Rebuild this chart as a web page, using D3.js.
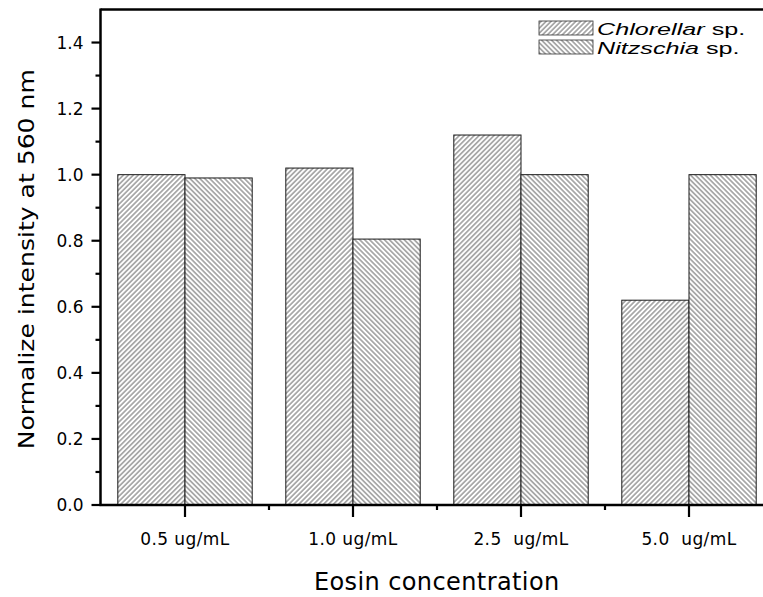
<!DOCTYPE html>
<html>
<head>
<meta charset="utf-8">
<script src="https://cdn.jsdelivr.net/npm/d3@7"></script>
<style>
  html, body { margin: 0; padding: 0; background: #fff; }
  svg { display: block; }
  text { font-family: "DejaVu Sans", Tahoma, sans-serif; fill: #000; }
</style>
</head>
<body>
<svg id="chart" width="763" height="597"></svg>
<script>
// Eosin concentrations on the x axis
const categories = ["0.5 ug/mL", "1.0 ug/mL", "2.5  ug/mL", "5.0  ug/mL"];
// Normalized intensity at 560 nm for each species
const chlorella = [1.00, 1.02, 1.12, 0.62];
const nitzschia = [0.99, 0.805, 1.00, 1.00];
const seriesNames = ["Chlorellar", "Nitzschia"];
const yTicks = [0.0, 0.2, 0.4, 0.6, 0.8, 1.0, 1.2, 1.4];
const yMinorTicks = [0.1, 0.3, 0.5, 0.7, 0.9, 1.1, 1.3];

const svg = d3.select("#chart");
const plotLeft = 100.5, plotRight = 773, plotTop = 9.5, plotBottom = 505;

const x = d3.scaleBand().domain(categories).range([101, plotRight])
  .paddingInner(0.2).paddingOuter(0.1);
const xSub = d3.scaleBand().domain(seriesNames).range([0, x.bandwidth()]);
const y = d3.scaleLinear().domain([0, 1.5]).range([plotBottom, plotTop]);

// hatch patterns: "/" for Chlorella, "\" for Nitzschia
const defs = svg.append("defs");
function hatch(id, angle, gap, sw) {
  const p = defs.append("pattern")
    .attr("id", id)
    .attr("patternUnits", "userSpaceOnUse")
    .attr("width", gap).attr("height", 10)
    .attr("patternTransform", `rotate(${angle})`);
  p.append("rect").attr("width", gap).attr("height", 10).attr("fill", "#fff");
  p.append("line")
    .attr("x1", gap / 2).attr("x2", gap / 2)
    .attr("y1", 0).attr("y2", 10)
    .attr("stroke", "#333").attr("stroke-width", sw);
}
hatch("hatchC", 45, 3.5, 0.8);
hatch("hatchN", -45, 3.5, 0.8);

const fills = { Chlorellar: "url(#hatchC)", Nitzschia: "url(#hatchN)" };
const rows = categories.map((c, i) => ({ cat: c, Chlorellar: chlorella[i], Nitzschia: nitzschia[i] }));

// bars
const groups = svg.append("g").selectAll("g").data(rows).join("g")
  .attr("transform", d => `translate(${x(d.cat)},0)`);
groups.selectAll("rect")
  .data(d => seriesNames.map(k => ({ key: k, value: d[k] })))
  .join("rect")
  .attr("x", d => xSub(d.key))
  .attr("width", xSub.bandwidth())
  .attr("y", d => y(d.value))
  .attr("height", d => y(0) - y(d.value))
  .attr("fill", d => fills[d.key])
  .attr("stroke", "#1a1a1a")
  .attr("stroke-width", 1);

// frame: top and right borders
svg.append("line").attr("x1", plotLeft).attr("x2", plotRight).attr("y1", plotTop).attr("y2", plotTop)
  .attr("stroke", "#000").attr("stroke-width", 2.5);
svg.append("line").attr("x1", plotRight).attr("x2", plotRight).attr("y1", plotTop).attr("y2", plotBottom)
  .attr("stroke", "#000").attr("stroke-width", 2.5);

// y axis
const yAxis = svg.append("g").attr("transform", `translate(${plotLeft},0)`);
yAxis.append("line").attr("x1", 0).attr("x2", 0).attr("y1", plotTop - 1).attr("y2", plotBottom + 1)
  .attr("stroke", "#000").attr("stroke-width", 2.5);
yAxis.selectAll(".maj").data(yTicks).join("line")
  .attr("x1", -9).attr("x2", 0)
  .attr("y1", d => y(d)).attr("y2", d => y(d))
  .attr("stroke", "#000").attr("stroke-width", 2.2);
yAxis.selectAll(".min").data(yMinorTicks).join("line")
  .attr("x1", -5).attr("x2", 0)
  .attr("y1", d => y(d)).attr("y2", d => y(d))
  .attr("stroke", "#000").attr("stroke-width", 2.2);
yAxis.selectAll("text").data(yTicks).join("text")
  .attr("x", -17).attr("y", d => y(d))
  .attr("dy", "0.36em")
  .attr("text-anchor", "end")
  .style("font-size", "17px")
  .text(d => d3.format(".1f")(d));

// x axis
const xAxis = svg.append("g");
xAxis.append("line").attr("x1", plotLeft - 1).attr("x2", plotRight).attr("y1", plotBottom).attr("y2", plotBottom)
  .attr("stroke", "#000").attr("stroke-width", 2.6);
xAxis.selectAll(".maj").data(categories).join("line")
  .attr("x1", d => x(d) + x.bandwidth() / 2).attr("x2", d => x(d) + x.bandwidth() / 2)
  .attr("y1", plotBottom).attr("y2", plotBottom + 12)
  .attr("stroke", "#000").attr("stroke-width", 2.2);
xAxis.selectAll(".min").data(categories.slice(1)).join("line")
  .attr("x1", d => x(d) - x.step() * x.paddingInner() / 2)
  .attr("x2", d => x(d) - x.step() * x.paddingInner() / 2)
  .attr("y1", plotBottom).attr("y2", plotBottom + 5)
  .attr("stroke", "#000").attr("stroke-width", 2.2);
xAxis.selectAll("text").data(categories).join("text")
  .attr("x", d => x(d) + x.bandwidth() / 2)
  .attr("y", 545)
  .attr("text-anchor", "middle")
  .style("font-size", "17px")
  .style("letter-spacing", "0.4px")
  .style("white-space", "pre")
  .attr("xml:space", "preserve")
  .text(d => d);

// axis titles
svg.append("text")
  .attr("x", (plotLeft + plotRight) / 2).attr("y", 590)
  .attr("text-anchor", "middle")
  .style("font-size", "24px")
  .style("letter-spacing", "0.4px")
  .text("Eosin concentration");
svg.append("text")
  .attr("transform", `translate(34,${(plotTop + plotBottom) / 2 + 2}) rotate(-90) scale(1.14,1)`)
  .attr("text-anchor", "middle")
  .style("font-size", "22px")
  .text("Normalize intensity at 560 nm");

// legend
const legend = svg.append("g").attr("transform", "translate(539,21)");
const legendItems = [
  { key: "Chlorellar", label: "Chlorellar" },
  { key: "Nitzschia", label: "Nitzschia" }
];
legendItems.forEach((it, i) => {
  const g = legend.append("g").attr("transform", `translate(0,${i * 19})`);
  g.append("rect").attr("x", 0).attr("y", 0).attr("width", 54).attr("height", 14)
    .attr("fill", fills[it.key]).attr("stroke", "#333").attr("stroke-width", 0.8);
  const t = g.append("text")
    .attr("transform", "translate(58,14) scale(1.48,1)")
    .style("font-family", "'Liberation Sans', Arial, sans-serif")
    .style("font-size", "17px");
  t.append("tspan").style("font-style", "italic").text(it.label);
  t.append("tspan").text(" sp.");
});
</script>
</body>
</html>
